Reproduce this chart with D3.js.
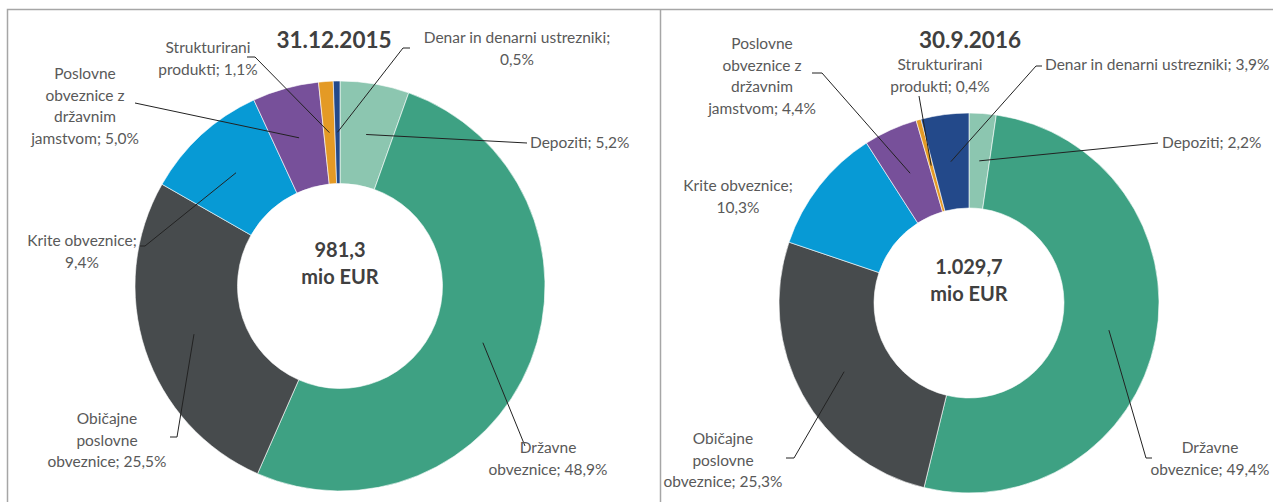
<!DOCTYPE html>
<html lang="en">
<head>
    <meta charset="UTF-8">
    <title>Struktura naložb - donut</title>
    <script src="https://d3js.org/d3.v7.min.js"></script>
    <style>
        body { margin: 0; background: #fff; }
        .label { font-family: Lato, "Open Sans", sans-serif; font-size: 15.5px; fill: #595959; }
        .title { font-family: Lato, "Open Sans", sans-serif; font-size: 22.5px; font-weight: bold; fill: #404040; }
        .total { font-family: Lato, "Open Sans", sans-serif; font-size: 20px; font-weight: bold; fill: #404040; }
        .leader { fill: none; stroke: #222; stroke-width: 1px; }
    </style>
</head>
<body>
    <svg id="chart"></svg>

    <script>
        // data
        const categories = ["Depoziti", "Državne obveznice", "Običajne poslovne obveznice",
            "Krite obveznice", "Poslovne obveznice z državnim jamstvom",
            "Strukturirani produkti", "Denar in denarni ustrezniki"];
        const colors = ["#8cc6b0", "#3ea183", "#474b4d", "#079ad5", "#77509a", "#e49a25", "#23498a"];

        const dates = ["31.12.2015", "30.9.2016"];
        const totals = ["981,3", "1.029,7"];
        const values2015 = [5.2, 48.9, 25.5, 9.4, 5.0, 1.1, 0.5];
        const values2016 = [2.2, 49.4, 25.3, 10.3, 4.4, 0.4, 3.9];

        // how each label is broken into lines, {v} = value
        const wrap2015 = [["Depoziti; {v}"], ["Državne", "obveznice; {v}"], ["Običajne", "poslovne", "obveznice; {v}"],
            ["Krite obveznice;", "{v}"], ["Poslovne", "obveznice z", "državnim", "jamstvom; {v}"],
            ["Strukturirani", "produkti; {v}"], ["Denar in denarni ustrezniki;", "{v}"]];
        const wrap2016 = [["Depoziti; {v}"], ["Državne", "obveznice; {v}"], ["Običajne", "poslovne", "obveznice; {v}"],
            ["Krite obveznice;", "{v}"], ["Poslovne", "obveznice z", "državnim", "jamstvom; {v}"],
            ["Strukturirani", "produkti; {v}"], ["Denar in denarni ustrezniki; {v}"]];

        // label placement (layout only)
        const layout2015 = [
            { x: 530, y: 148, anchor: "start", end: [527, 143] },
            { x: 548, y: 453, anchor: "middle", end: [525, 446] },
            { x: 107, y: 424, anchor: "middle", end: [177, 437], elbow: [170, 437] },
            { x: 82, y: 246, anchor: "middle", end: [145, 246], elbow: [140, 246] },
            { x: 85, y: 79, anchor: "middle", end: [135, 103] },
            { x: 208, y: 53, anchor: "middle", end: [255, 57], elbow: [247, 57] },
            { x: 517, y: 43, anchor: "middle", end: [403, 48], elbow: [410, 48] }
        ];
        const layout2016 = [
            { x: 1162, y: 148, anchor: "start", end: [1158, 143] },
            { x: 1210, y: 453, anchor: "middle", end: [1146, 458], elbow: [1152, 458] },
            { x: 723, y: 444, anchor: "middle", end: [794, 458], elbow: [786, 458] },
            { x: 738, y: 191, anchor: "middle" },
            { x: 762, y: 49, anchor: "middle", end: [822, 73], elbow: [812, 73] },
            { x: 940, y: 70, anchor: "middle", end: [919, 96] },
            { x: 1045, y: 70, anchor: "start", end: [1036, 66], elbow: [1042, 66] }
        ];

        const W = 1273, H = 502;
        const svg = d3.select("#chart").attr("width", W).attr("height", H);

        // panel frame
        svg.append("path")
            .attr("d", `M7.5,${H} V9.5 H${W} M660.5,9.5 V${H}`)
            .attr("fill", "none").attr("stroke", "#a6a6a6").attr("stroke-width", 1.5);

        const fmt = v => d3.format(".1f")(v).replace(".", ",") + "%";

        function drawDonut(cfg) {
            const g = svg.append("g").attr("transform", `translate(${cfg.cx},${cfg.cy})`);
            const pie = d3.pie().sort(null).value(d => d);
            const arcs = pie(cfg.values);
            const arc = d3.arc().innerRadius(cfg.r * 0.5).outerRadius(cfg.r);

            g.selectAll("path.slice")
                .data(arcs)
                .enter().append("path")
                .attr("class", "slice")
                .attr("d", arc)
                .attr("fill", (d, i) => colors[i])
                .attr("stroke", "#fff")
                .attr("stroke-width", 0.6);

            // leader lines from slice centroid
            arcs.forEach((d, i) => {
                const L = cfg.layout[i];
                if (!L.end) return;
                const c = arc.centroid(d);
                const pts = [[c[0] + cfg.cx, c[1] + cfg.cy], L.end];
                if (L.elbow) pts.push(L.elbow);
                svg.append("path")
                    .attr("class", "leader")
                    .attr("d", d3.line()(pts));
            });

            // labels
            cfg.values.forEach((v, i) => {
                const L = cfg.layout[i];
                const t = svg.append("text")
                    .attr("class", "label")
                    .attr("text-anchor", L.anchor);
                cfg.wrap[i].forEach((line, k) => {
                    t.append("tspan")
                        .attr("x", L.x)
                        .attr("y", L.y + k * 21.5)
                        .text(line.replace("{v}", fmt(v)));
                });
            });

            svg.append("text")
                .attr("class", "title")
                .attr("x", cfg.titleX).attr("y", 48)
                .attr("text-anchor", "middle")
                .text(cfg.date);

            const tt = svg.append("text").attr("class", "total").attr("text-anchor", "middle");
            tt.append("tspan").attr("x", cfg.cx).attr("y", cfg.cy - 29).text(cfg.total);
            tt.append("tspan").attr("x", cfg.cx).attr("y", cfg.cy - 2).text("mio EUR");
        }

        drawDonut({ cx: 340, cy: 286, r: 205, values: values2015, wrap: wrap2015, layout: layout2015,
            date: dates[0], total: totals[0], titleX: 334 });
        drawDonut({ cx: 969, cy: 303, r: 190, values: values2016, wrap: wrap2016, layout: layout2016,
            date: dates[1], total: totals[1], titleX: 970 });
    </script>
</body>
</html>
